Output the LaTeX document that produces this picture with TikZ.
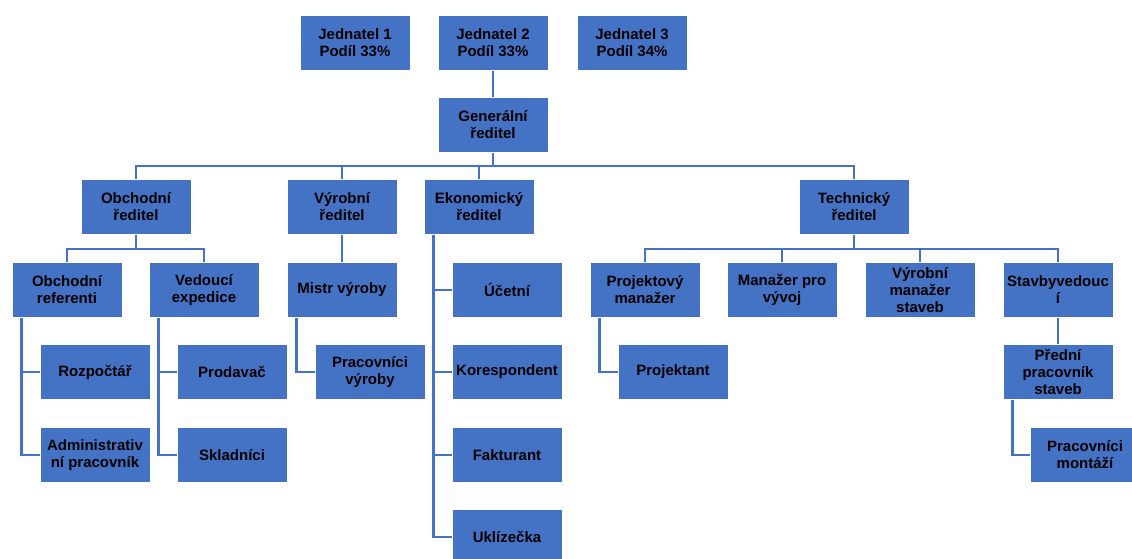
\documentclass[tikz,border=0pt]{standalone}
\usepackage{fontspec}
\setmainfont{Liberation Sans}
\definecolor{boxblue}{HTML}{4472C4}
\definecolor{lineblue}{HTML}{4472C4}
\tikzset{
  unit/.style={fill=boxblue, draw=white, line width=0.6pt, minimum width=110pt,
    minimum height=55pt, inner sep=0pt, align=center,
    font=\fontsize{15}{17}\selectfont\bfseries},
  link/.style={draw=lineblue, line width=2.6pt}
}
\begin{document}
\begin{tikzpicture}[x=1pt,y=-1pt]
  \useasboundingbox (0,0) rectangle (1132,558);
  \draw
    (355,43) node[unit] (jed1){Jednatel 1\\Podíl 33\%}
    (493,43) node[unit] (jed2){Jednatel 2\\Podíl 33\%}
    (632,43) node[unit] (jed3){Jednatel 3\\Podíl 34\%}
    (493,125) node[unit] (gen){Generální\\ředitel}
    (136,207) node[unit] (obch){Obchodní\\ředitel}
    (342,207) node[unit] (vyr){Výrobní\\ředitel}
    (479,207) node[unit] (eko){Ekonomický\\ředitel}
    (854,207) node[unit] (tech){Technický\\ředitel}
    (67,290) node[unit] (ref){Obchodní\\referenti}
    (204,290) node[unit] (exp){Vedoucí\\expedice}
    (95,372) node[unit] (rozp){Rozpočtář}
    (95,455) node[unit] (admin){Administrativ\\ní pracovník}
    (232,372) node[unit] (prod){Prodavač}
    (232,455) node[unit] (sklad){Skladníci}
    (342,290) node[unit] (mistr){Mistr výroby}
    (370,372) node[unit] (pvyr){Pracovníci\\výroby}
    (507,290) node[unit] (ucet){Účetní}
    (507,372) node[unit] (kor){Korespondent}
    (507,455) node[unit] (fakt){Fakturant}
    (507,537) node[unit] (ukl){Uklízečka}
    (645,290) node[unit] (proj){Projektový\\manažer}
    (782,290) node[unit] (vyvoj){Manažer pro\\vývoj}
    (920,290) node[unit] (vman){Výrobní\\manažer\\staveb}
    (1058,290) node[unit] (stav){Stavbyvedouc\\í}
    (673,372) node[unit] (projt){Projektant}
    (1058,372) node[unit] (pred){Přední\\pracovník\\staveb}
    (1085,455) node[unit] (mont){Pracovníci\\montáží};
  \begin{scope}[link]
    \draw (jed2) -- (gen);
    \draw (gen.south) -- ++(0,13) -| (obch.north);
    \draw (gen.south) -- ++(0,13) -| (vyr.north);
    \draw (gen.south) -- ++(0,13) -| (eko.north);
    \draw (gen.south) -- ++(0,13) -| (tech.north);
    \draw (obch.south) -- ++(0,14) -| (ref.north);
    \draw (obch.south) -- ++(0,14) -| (exp.north);
    \draw ([xshift=10]ref.south west) |- (rozp.west);
    \draw ([xshift=10]ref.south west) |- (admin.west);
    \draw ([xshift=10]exp.south west) |- (prod.west);
    \draw ([xshift=10]exp.south west) |- (sklad.west);
    \draw (vyr) -- (mistr);
    \draw ([xshift=10]mistr.south west) |- (pvyr.west);
    \draw ([xshift=10]eko.south west) |- (ucet.west);
    \draw ([xshift=10]eko.south west) |- (kor.west);
    \draw ([xshift=10]eko.south west) |- (fakt.west);
    \draw ([xshift=10]eko.south west) |- (ukl.west);
    \draw (tech.south) -- ++(0,14) -| (proj.north);
    \draw (tech.south) -- ++(0,14) -| (vyvoj.north);
    \draw (tech.south) -- ++(0,14) -| (vman.north);
    \draw (tech.south) -- ++(0,14) -| (stav.north);
    \draw ([xshift=10]proj.south west) |- (projt.west);
    \draw (stav) -- (pred);
    \draw ([xshift=10]pred.south west) |- (mont.west);
  \end{scope}
\end{tikzpicture}
\end{document}
